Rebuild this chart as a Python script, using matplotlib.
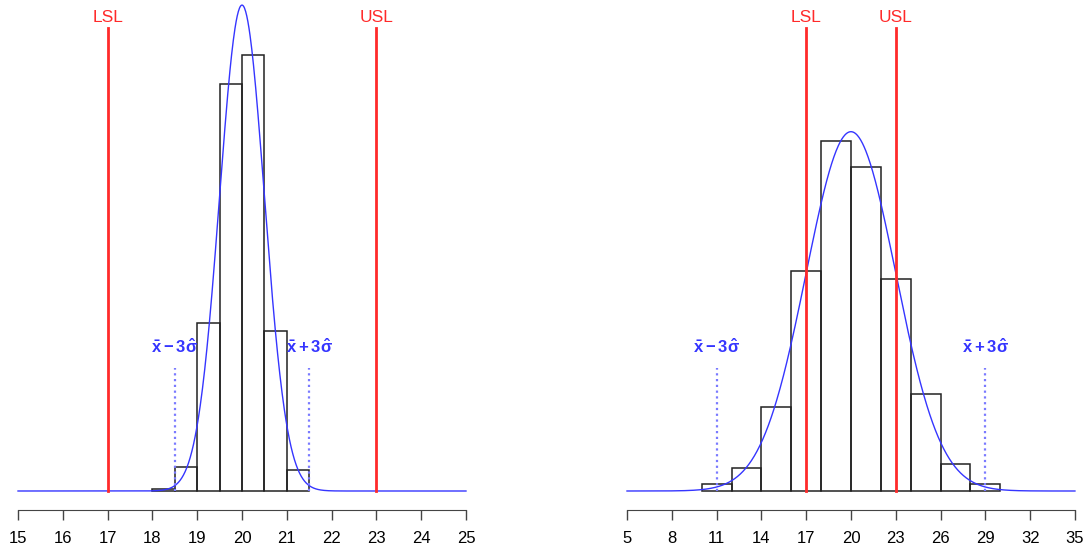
import matplotlib
matplotlib.use('Agg')
import matplotlib.pyplot as plt
import numpy as np

plt.rcParams['font.family'] = ['Liberation Sans', 'DejaVu Sans']
plt.rcParams['mathtext.fontset'] = 'custom'
plt.rcParams['mathtext.rm'] = 'Liberation Sans:bold'
plt.rcParams['mathtext.it'] = 'Liberation Sans:bold'
plt.rcParams['mathtext.bf'] = 'Liberation Sans:bold'

# data
n_obs = 1000
left_edges = [18.0, 18.5, 19.0, 19.5, 20.0, 20.5, 21.0, 21.5]
left_counts = [2, 20, 138, 334, 358, 131, 17]
left_mean, left_sd = 20.0, 0.5
left_lsl, left_usl = 17, 23
left_ticks = [15, 16, 17, 18, 19, 20, 21, 22, 23, 24, 25]

right_edges = [10, 12, 14, 16, 18, 20, 22, 24, 26, 28, 30]
right_counts = [5, 17, 62, 163, 259, 240, 157, 72, 20, 5]
right_mean, right_sd = 20.0, 3.0
right_lsl, right_usl = 17, 23
right_ticks = [5, 8, 11, 14, 17, 20, 23, 26, 29, 32, 35]

RED = '#ff2a2a'
BLUE = '#3535ff'
DOT_BLUE = '#7a7aff'

W, H = 1086, 554
fig = plt.figure(figsize=(W / 100, H / 100), dpi=100)
fig.patch.set_facecolor('white')

# axes: pixel top 0, bottom 520 ; baseline (density 0) at 491 ; axis line at 510
ax_bot = (H - 520) / H
ax_h = 520 / H
zero_frac = (520 - 491) / 520
line_top = (520 - 28) / 520
lab_y = (520 - 17) / 520
dot_top = (520 - 368) / 520
dot_lab = (520 - 347) / 520


def panel(rect, edges, counts, mu, sd, lsl, usl, ticks, xlim, pxscale):
    ax = fig.add_axes(rect)
    edges = np.array(edges, dtype=float)
    widths = np.diff(edges)
    dens = np.array(counts) / (n_obs * widths)

    xs = np.linspace(ticks[0], ticks[-1], 800)
    ys = np.exp(-0.5 * ((xs - mu) / sd) ** 2) / (sd * np.sqrt(2 * np.pi))

    ax.bar(edges[:-1], dens, width=widths, align='edge', facecolor='none',
           edgecolor='#222222', linewidth=1.1, zorder=2)
    ax.plot(xs, ys, color=BLUE, linewidth=1.0, zorder=3)

    for v, lab in [(lsl, 'LSL'), (usl, 'USL')]:
        ax.axvline(v, ymin=zero_frac, ymax=line_top, color=RED, linewidth=2.0, zorder=4)
        ax.text(v, lab_y, lab, transform=ax.get_xaxis_transform(), ha='center', va='center',
                color=RED, fontsize=12.5)

    for v, lab in [(mu - 3 * sd, r'$\bar{x}-3\hat{\sigma}$'), (mu + 3 * sd, r'$\bar{x}+3\hat{\sigma}$')]:
        ax.axvline(v, ymin=zero_frac, ymax=dot_top, color=DOT_BLUE, linewidth=1.6,
                   linestyle=(0, (1, 1.6)), zorder=3)
        ax.text(v, dot_lab, lab, transform=ax.get_xaxis_transform(), ha='center', va='center',
                color=BLUE, fontsize=12)

    ax.set_xlim(*xlim)
    ytop = 491 / pxscale
    ylow = -(520 - 491) / pxscale
    ax.set_ylim(ylow, ytop)
    for s in ['top', 'right', 'left']:
        ax.spines[s].set_visible(False)
    ax.spines['bottom'].set_position(('data', -(510 - 491) / pxscale))
    ax.spines['bottom'].set_bounds(ticks[0], ticks[-1])
    ax.spines['bottom'].set_color('#444444')
    ax.set_yticks([])
    ax.set_xticks(ticks)
    ax.set_xticklabels([str(t) for t in ticks])
    ax.tick_params(axis='x', length=7.2, width=1.0, color='#444444', pad=8, labelsize=12)
    ax.patch.set_alpha(0)
    return ax


panel([0, ax_bot, 484 / W, ax_h], left_edges, left_counts, left_mean, left_sd,
      left_lsl, left_usl, left_ticks, (14.598, 25.402), 609.0)
panel([609 / W, ax_bot, (W - 609) / W, ax_h], right_edges, right_counts, right_mean, right_sd,
      right_lsl, right_usl, right_ticks, (3.795, 35.74), 2702.0)

plt.savefig('out.png', dpi=100, facecolor='white')
plt.close()
